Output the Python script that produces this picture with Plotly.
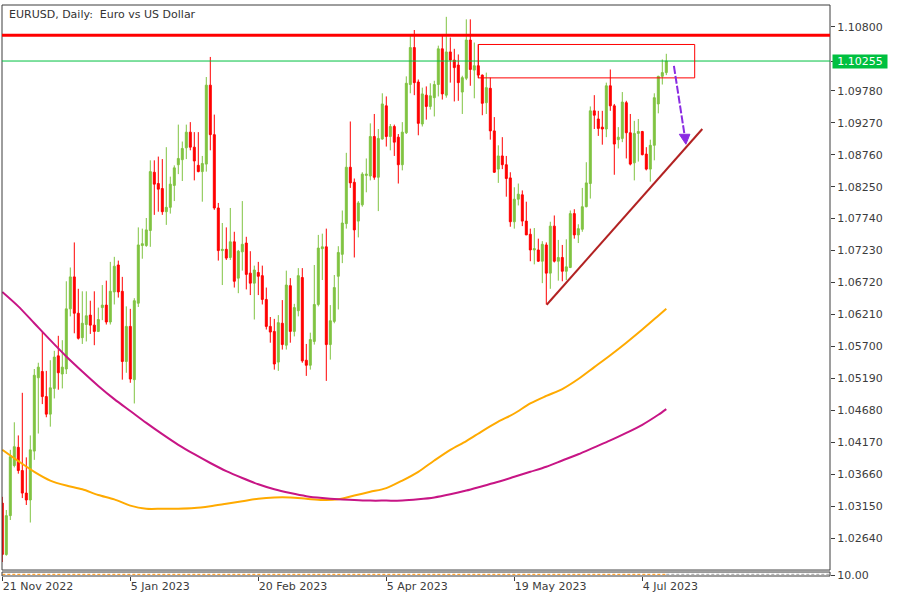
import pandas as pd
import plotly.graph_objects as go

# ---------------- data ----------------
dates = [d.strftime("%Y-%m-%d") for d in pd.bdate_range("2022-11-21", "2023-07-12")
         if d.strftime("%Y-%m-%d") != "2022-12-26"]

opens = [
    1.0320, 1.0238, 1.0300, 1.0380, 1.0409, 1.0372, 1.0336, 1.0325, 1.0403, 1.0520,
    1.0530, 1.0490, 1.0462, 1.0503, 1.0555, 1.0526, 1.0534, 1.0630, 1.0681, 1.0623,
    1.0584, 1.0605, 1.0620, 1.0604, 1.0594, 1.0632, 1.0636, 1.0609, 1.0657, 1.0700,
    1.0658, 1.0546, 1.0602, 1.0517, 1.0639, 1.0731, 1.0731, 1.0755, 1.0848, 1.0830,
    1.0822, 1.0785, 1.0792, 1.0827, 1.0860, 1.0868, 1.0887, 1.0912, 1.0888, 1.0859,
    1.0849, 1.0861, 1.0987, 1.0908, 1.0791, 1.0723, 1.0725, 1.0712, 1.0737, 1.0679,
    1.0721, 1.0735, 1.0687, 1.0671, 1.0688, 1.0683, 1.0645, 1.0602, 1.0594, 1.0545,
    1.0607, 1.0572, 1.0667, 1.0594, 1.0627, 1.0680, 1.0548, 1.0540, 1.0578, 1.0637,
    1.0726, 1.0729, 1.0573, 1.0610, 1.0682, 1.0717, 1.0766, 1.0856, 1.0832, 1.0770,
    1.0796, 1.0843, 1.0842, 1.0905, 1.0840, 1.0901, 1.0954, 1.0905, 1.0921, 1.0904,
    1.0860, 1.0911, 1.0988, 1.1047, 1.0992, 1.0925, 1.0971, 1.0953, 1.0967, 1.0988,
    1.1045, 1.0971, 1.1040, 1.1027, 1.1019, 1.0976, 1.0998, 1.1059, 1.1011, 1.1018,
    1.1003, 1.0959, 1.0982, 1.0914, 1.0853, 1.0874, 1.0860, 1.0839, 1.0769, 1.0805,
    1.0812, 1.0770, 1.0749, 1.0724, 1.0724, 1.0706, 1.0732, 1.0687, 1.0762, 1.0706,
    1.0712, 1.0690, 1.0696, 1.0782, 1.0748, 1.0757, 1.0793, 1.0830, 1.0946, 1.0933,
    1.0920, 1.0917, 1.0986, 1.0954, 1.0900, 1.0902, 1.0959, 1.0911, 1.0863, 1.0910,
    1.0913, 1.0877, 1.0853, 1.0891, 1.0957, 1.1001, 1.1007,
]
highs = [
    1.0330, 1.0309, 1.0405, 1.0449, 1.0428, 1.0496, 1.0393, 1.0428, 1.0534, 1.0544,
    1.0593, 1.0531, 1.0548, 1.0563, 1.0587, 1.0580, 1.0674, 1.0696, 1.0736, 1.0662,
    1.0658, 1.0658, 1.0643, 1.0658, 1.0632, 1.0668, 1.0675, 1.0705, 1.0713, 1.0707,
    1.0681, 1.0634, 1.0630, 1.0647, 1.0760, 1.0758, 1.0775, 1.0867, 1.0867, 1.0873,
    1.0869, 1.0888, 1.0841, 1.0859, 1.0924, 1.0897, 1.0924, 1.0928, 1.0912, 1.0912,
    1.0874, 1.1000, 1.1032, 1.0940, 1.0799, 1.0767, 1.0760, 1.0791, 1.0753, 1.0724,
    1.0802, 1.0745, 1.0722, 1.0699, 1.0705, 1.0699, 1.0664, 1.0617, 1.0614, 1.0620,
    1.0644, 1.0691, 1.0679, 1.0638, 1.0695, 1.0695, 1.0574, 1.0592, 1.0700, 1.0748,
    1.0750, 1.0758, 1.0636, 1.0684, 1.0730, 1.0787, 1.0879, 1.0929, 1.0838, 1.0802,
    1.0848, 1.0870, 1.0926, 1.0941, 1.0917, 1.0974, 1.0969, 1.0925, 1.0924, 1.0909,
    1.0928, 1.1001, 1.1067, 1.1075, 1.0996, 1.0983, 1.0985, 1.0990, 1.0994, 1.1050,
    1.1066, 1.1096, 1.1063, 1.1045, 1.1036, 1.1002, 1.1092, 1.1092, 1.1055, 1.1052,
    1.1004, 1.1007, 1.0999, 1.0936, 1.0891, 1.0904, 1.0874, 1.0848, 1.0824, 1.0830,
    1.0819, 1.0801, 1.0758, 1.0759, 1.0742, 1.0738, 1.0736, 1.0769, 1.0779, 1.0740,
    1.0732, 1.0741, 1.0787, 1.0789, 1.0765, 1.0823, 1.0864, 1.0953, 1.0971, 1.0946,
    1.0946, 1.0991, 1.1012, 1.0957, 1.0920, 1.0976, 1.0962, 1.0941, 1.0930, 1.0933,
    1.0914, 1.0888, 1.0900, 1.0974, 1.1002, 1.1028, 1.1037,
]
lows = [
    1.0226, 1.0236, 1.0293, 1.0377, 1.0367, 1.0328, 1.0317, 1.0289, 1.0389, 1.0431,
    1.0478, 1.0457, 1.0442, 1.0487, 1.0501, 1.0503, 1.0526, 1.0618, 1.0591, 1.0581,
    1.0574, 1.0578, 1.0590, 1.0572, 1.0593, 1.0612, 1.0605, 1.0605, 1.0637, 1.0648,
    1.0517, 1.0528, 1.0512, 1.0479, 1.0633, 1.0710, 1.0729, 1.0729, 1.0780, 1.0785,
    1.0780, 1.0764, 1.0782, 1.0802, 1.0845, 1.0834, 1.0869, 1.0883, 1.0835, 1.0848,
    1.0801, 1.0849, 1.0883, 1.0788, 1.0707, 1.0668, 1.0708, 1.0708, 1.0664, 1.0655,
    1.0691, 1.0661, 1.0652, 1.0613, 1.0652, 1.0637, 1.0597, 1.0576, 1.0533, 1.0531,
    1.0565, 1.0565, 1.0576, 1.0586, 1.0618, 1.0544, 1.0523, 1.0533, 1.0573, 1.0634,
    1.0676, 1.0515, 1.0549, 1.0607, 1.0629, 1.0703, 1.0758, 1.0823, 1.0712, 1.0744,
    1.0793, 1.0816, 1.0835, 1.0836, 1.0786, 1.0900, 1.0889, 1.0883, 1.0874, 1.0830,
    1.0851, 1.0909, 1.0974, 1.0971, 1.0907, 1.0921, 1.0932, 1.0948, 1.0937, 1.0969,
    1.0964, 1.0967, 1.0991, 1.0961, 1.0962, 1.0941, 1.0995, 1.0986, 1.0966, 1.0998,
    1.0939, 1.0941, 1.0900, 1.0847, 1.0831, 1.0853, 1.0809, 1.0761, 1.0758, 1.0795,
    1.0762, 1.0748, 1.0706, 1.0701, 1.0705, 1.0671, 1.0637, 1.0662, 1.0704, 1.0675,
    1.0674, 1.0676, 1.0695, 1.0742, 1.0735, 1.0753, 1.0792, 1.0806, 1.0917, 1.0906,
    1.0892, 1.0904, 1.0946, 1.0844, 1.0886, 1.0896, 1.0870, 1.0859, 1.0835, 1.0865,
    1.0875, 1.0851, 1.0833, 1.0867, 1.0942, 1.0988, 1.1003,
]
closes = [
    1.0238, 1.0300, 1.0394, 1.0410, 1.0372, 1.0336, 1.0325, 1.0405, 1.0524, 1.0537,
    1.0490, 1.0462, 1.0504, 1.0553, 1.0528, 1.0537, 1.0630, 1.0681, 1.0623, 1.0583,
    1.0607, 1.0619, 1.0604, 1.0594, 1.0613, 1.0636, 1.0609, 1.0658, 1.0698, 1.0657,
    1.0546, 1.0602, 1.0518, 1.0643, 1.0732, 1.0734, 1.0756, 1.0849, 1.0829, 1.0821,
    1.0785, 1.0792, 1.0829, 1.0855, 1.0870, 1.0886, 1.0912, 1.0888, 1.0866, 1.0849,
    1.0862, 1.0987, 1.0908, 1.0791, 1.0723, 1.0725, 1.0711, 1.0737, 1.0674, 1.0722,
    1.0733, 1.0685, 1.0671, 1.0692, 1.0682, 1.0645, 1.0602, 1.0593, 1.0542, 1.0608,
    1.0573, 1.0668, 1.0594, 1.0632, 1.0683, 1.0547, 1.0540, 1.0581, 1.0637, 1.0727,
    1.0729, 1.0573, 1.0611, 1.0664, 1.0720, 1.0767, 1.0856, 1.0831, 1.0756, 1.0799,
    1.0845, 1.0845, 1.0905, 1.0840, 1.0902, 1.0957, 1.0905, 1.0921, 1.0896, 1.0860,
    1.0912, 1.0990, 1.1047, 1.0991, 1.0926, 1.0973, 1.0953, 1.0970, 1.0988, 1.1045,
    1.0973, 1.1040, 1.1027, 1.1015, 1.0991, 1.0999, 1.1059, 1.1012, 1.1018, 1.1003,
    1.0958, 1.0983, 1.0914, 1.0848, 1.0874, 1.0860, 1.0838, 1.0769, 1.0805, 1.0813,
    1.0770, 1.0748, 1.0724, 1.0726, 1.0706, 1.0733, 1.0687, 1.0762, 1.0706, 1.0712,
    1.0690, 1.0697, 1.0782, 1.0748, 1.0758, 1.0793, 1.0831, 1.0946, 1.0939, 1.0918,
    1.0917, 1.0986, 1.0954, 1.0893, 1.0904, 1.0960, 1.0911, 1.0861, 1.0910, 1.0913,
    1.0876, 1.0853, 1.0891, 1.0967, 1.1001, 1.1007, 1.10255,
]

# moving averages, read every 4th bar (plus the last bar)
ma_bars = list(range(0, 165, 4)) + [166]
ma_fast = [
    1.0405, 1.0387, 1.0370, 1.0356, 1.0348, 1.0342, 1.0333, 1.0326, 1.0316, 1.0311,
    1.0311, 1.0311, 1.0312, 1.0315, 1.0319, 1.0323, 1.0327, 1.0329, 1.0329, 1.0327,
    1.0325, 1.0326, 1.0332, 1.0338, 1.0344, 1.0356, 1.0370, 1.0388, 1.0405, 1.0419,
    1.0435, 1.0450, 1.0463, 1.0479, 1.0491, 1.0502, 1.0518, 1.0537, 1.0556, 1.0576,
    1.0597, 1.0619, 1.0630,
]
ma_slow = [
    1.0657, 1.0634, 1.0607, 1.0580, 1.0554, 1.0530, 1.0507, 1.0486, 1.0467, 1.0448,
    1.0430, 1.0413, 1.0398, 1.0384, 1.0371, 1.0360, 1.0350, 1.0342, 1.0336, 1.0331,
    1.0328, 1.0326, 1.0325, 1.0324, 1.0324, 1.0324, 1.0326, 1.0329, 1.0334, 1.0340,
    1.0347, 1.0354, 1.0362, 1.0370, 1.0378, 1.0388, 1.0398, 1.0409, 1.0420, 1.0432,
    1.0445, 1.0461, 1.0470,
]

tick_dates = ["2022-11-21", "2023-01-05", "2023-02-20", "2023-04-05", "2023-05-19", "2023-07-04"]
tick_labels = ["21 Nov 2022", "5 Jan 2023", "20 Feb 2023", "5 Apr 2023", "19 May 2023", "4 Jul 2023"]
price_ticks = [1.10800, 1.09780, 1.09270, 1.08760, 1.08250, 1.07740, 1.07230, 1.06720,
               1.06210, 1.05700, 1.05190, 1.04680, 1.04170, 1.03660, 1.03150, 1.02640]

last_price = 1.10255
resistance = 1.10668
zone = dict(start=119.0, end=173.1, low=1.09986, high=1.10519)
trend = dict(x0=136.1, y0=1.06366, x1=175.0, y1=1.09170)
arrow = dict(x0=167.9, y0=1.10176, x1=170.6, y1=1.09060, tip_x=170.9, tip_y=1.08927,
             head_l=169.25, head_r=171.9, head_y=1.09086)

assert len(dates) == len(opens) == len(highs) == len(lows) == len(closes) == 167
assert len(ma_bars) == len(ma_fast) == len(ma_slow)

# ---------------- figure ----------------
GREEN = "#80C342"
RED = "#FF0000"
TXT = "#3c3c3c"
bars = list(range(len(dates)))
tick_pos = [dates.index(d) for d in tick_dates]

fig = go.Figure()
fig.add_trace(go.Candlestick(
    x=bars, open=opens, high=highs, low=lows, close=closes,
    increasing=dict(line=dict(color=GREEN, width=1), fillcolor=GREEN),
    decreasing=dict(line=dict(color=RED, width=1), fillcolor=RED),
    whiskerwidth=0, showlegend=False, hoverinfo="skip", xaxis="x", yaxis="y"))
fig.add_trace(go.Scatter(x=ma_bars, y=ma_fast, mode="lines",
                         line=dict(color="#FFAA00", width=2, shape="spline", smoothing=0.8),
                         showlegend=False, hoverinfo="skip", xaxis="x", yaxis="y"))
fig.add_trace(go.Scatter(x=ma_bars, y=ma_slow, mode="lines",
                         line=dict(color="#C71585", width=2, shape="spline", smoothing=0.8),
                         showlegend=False, hoverinfo="skip", xaxis="x", yaxis="y"))
# lower indicator pane
fig.add_trace(go.Scatter(x=[bars[0], bars[-1]], y=[10.7, 10.7], mode="lines",
                         line=dict(color="#FF8C00", width=1, dash="3px,2px"),
                         showlegend=False, hoverinfo="skip", xaxis="x", yaxis="y2"))
fig.add_trace(go.Scatter(x=[bars[-1], 207], y=[10.7, 10.7], mode="lines",
                         line=dict(color="#A0A0A0", width=1, dash="3px,2px"),
                         showlegend=False, hoverinfo="skip", xaxis="x", yaxis="y2"))

shapes = [
    dict(type="rect", xref="paper", yref="y domain", x0=0, x1=1, y0=0, y1=1,
         line=dict(color=TXT, width=1), layer="above"),
    dict(type="rect", xref="paper", yref="y2 domain", x0=0, x1=1, y0=0, y1=1,
         line=dict(color=TXT, width=1), layer="above"),
    dict(type="line", xref="x domain", yref="y", x0=0, x1=1, y0=resistance, y1=resistance,
         line=dict(color=RED, width=3)),
    dict(type="line", xref="x domain", yref="y", x0=0, x1=1, y0=last_price, y1=last_price,
         line=dict(color="#00C040", width=1)),
    dict(type="rect", xref="x", yref="y", x0=zone["start"], x1=zone["end"],
         y0=zone["low"], y1=zone["high"], line=dict(color=RED, width=1)),
    dict(type="line", xref="x", yref="y", x0=trend["x0"], y0=trend["y0"],
         x1=trend["x1"], y1=trend["y1"], line=dict(color="#B22222", width=2)),
    dict(type="line", xref="x", yref="y", x0=arrow["x0"], y0=arrow["y0"],
         x1=arrow["x1"], y1=arrow["y1"], line=dict(color="#8A2BE2", width=2, dash="8px,2px")),
    dict(type="path", xref="x", yref="y",
         path=f"M {arrow['head_l']},{arrow['head_y']} L {arrow['head_r']},{arrow['head_y']} "
              f"L {arrow['tip_x']},{arrow['tip_y']} Z",
         fillcolor="#8A2BE2", line=dict(color="#8A2BE2", width=1)),
]

fig.update_layout(
    width=900, height=600,
    margin=dict(l=2, r=70, t=2, b=24),
    paper_bgcolor="white", plot_bgcolor="white",
    font=dict(family="DejaVu Sans", size=11, color=TXT),
    hovermode=False, showlegend=False,
    shapes=shapes,
    xaxis=dict(domain=[0, 1], anchor="y2", range=[-0.075, 206.925],
               tickmode="array", tickvals=tick_pos, ticktext=tick_labels,
               ticks="outside", ticklen=4, tickcolor=TXT, tickwidth=1,
               ticklabelposition="outside right", ticklabeloverflow="allow",
               showgrid=False, zeroline=False, showline=False,
               rangeslider=dict(visible=False), fixedrange=True),
    yaxis=dict(domain=[6 / 574, 1], anchor="x", side="right",
               range=[1.02132, 1.11149],
               tickmode="array", tickvals=price_ticks + [last_price],
               ticktext=[f"{v:.5f}" for v in price_ticks] + [""],
               ticks="outside", ticklen=4, tickcolor=TXT, tickwidth=1,
               showgrid=False, zeroline=False, showline=False, fixedrange=True),
    yaxis2=dict(domain=[0, 4 / 574], anchor="x", side="right", range=[9, 13],
                tickmode="array", tickvals=[10], ticktext=["10.00"],
                ticks="outside", ticklen=4, tickcolor=TXT, tickwidth=1,
                showgrid=False, zeroline=False, showline=False, fixedrange=True),
    annotations=[
        dict(text="EURUSD, Daily:\u00a0 Euro vs US Dollar", xref="paper", yref="paper",
             x=0, y=(576 - 12) / 574, xanchor="left", yanchor="middle", xshift=5,
             showarrow=False, font=dict(family="DejaVu Sans", size=11, color="#333333")),
        dict(text=f"{last_price:.5f}", xref="paper", yref="y", x=1, y=last_price,
             xanchor="left", yanchor="middle", xshift=2, width=54, height=13,
             bgcolor="#00C040", borderpad=0, showarrow=False,
             font=dict(family="DejaVu Sans", size=11, color="white")),
    ],
)

fig.write_html("out.html", config={"displayModeBar": False},
               post_script="document.body.style.margin='0px';")
